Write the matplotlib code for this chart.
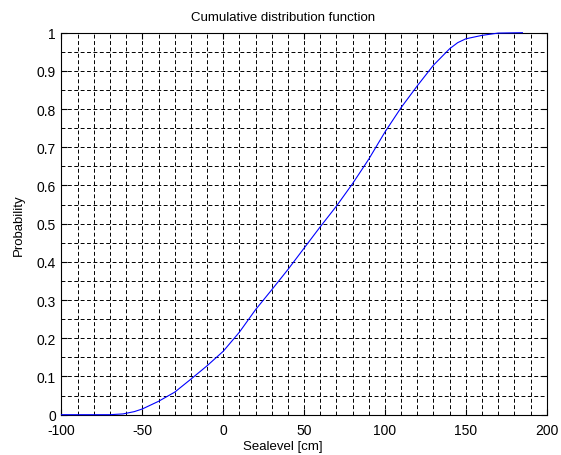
import numpy as np
import matplotlib
matplotlib.use("Agg")
import matplotlib.pyplot as plt
from matplotlib.ticker import MultipleLocator

# sea level values (cm) and cumulative probability
sealevel = [-100, -70, -62, -55, -50, -40, -30, -20, -10, 0, 10, 20, 30, 40,
            50, 60, 70, 80, 90, 100, 110, 120, 130, 140, 145, 150, 160, 170, 185]
prob = [0, 0, 0.002, 0.008, 0.015, 0.035, 0.059, 0.093, 0.128, 0.166, 0.216,
        0.275, 0.327, 0.38, 0.436, 0.492, 0.546, 0.605, 0.669, 0.74, 0.804,
        0.861, 0.915, 0.958, 0.974, 0.984, 0.993, 0.999, 1.0]

plt.rcParams['font.family'] = ['Liberation Sans', 'DejaVu Sans']
plt.rcParams['lines.scale_dashes'] = False
plt.rcParams['axes.unicode_minus'] = False

fig = plt.figure(figsize=(5.61, 4.56), dpi=100)
ax = fig.add_axes([0.1096, 0.0884, 0.8649, 0.8377])

ax.plot(sealevel, prob, color=(0, 0, 1), lw=0.8, zorder=3, clip_on=False)

ax.set_xlim(-100, 200)
ax.set_ylim(0, 1)
ax.xaxis.set_major_locator(MultipleLocator(50))
ax.xaxis.set_minor_locator(MultipleLocator(10))
ax.set_yticks(np.arange(0, 1.01, 0.1))
ax.set_yticklabels(['%g' % round(v, 1) for v in np.arange(0, 1.01, 0.1)])
ax.yaxis.set_minor_locator(MultipleLocator(0.05))

ax.grid(True, which='both', color='black', linestyle=(0, (2.8, 1.8)), linewidth=0.7)
ax.tick_params(which='major', direction='in', length=4, width=0.8,
               top=True, right=True, labelsize=10, colors='black')
ax.tick_params(axis='x', pad=6)
ax.tick_params(axis='y', pad=4)
ax.tick_params(which='minor', length=0)
for s in ax.spines.values():
    s.set_linewidth(0.8)

ax.text(0.4565, 1.041, 'Cumulative distribution function', fontsize=9.5,
        ha='center', va='center', transform=ax.transAxes)
ax.set_xlabel('Sealevel [cm]', fontsize=9.5, va='center')
ax.xaxis.set_label_coords(0.4565, -0.083)
ax.set_ylabel('Probability', fontsize=9.5, va='center')
ax.yaxis.set_label_coords(-0.0876, 0.5)

fig.savefig('out.png', dpi=100, facecolor='white')
